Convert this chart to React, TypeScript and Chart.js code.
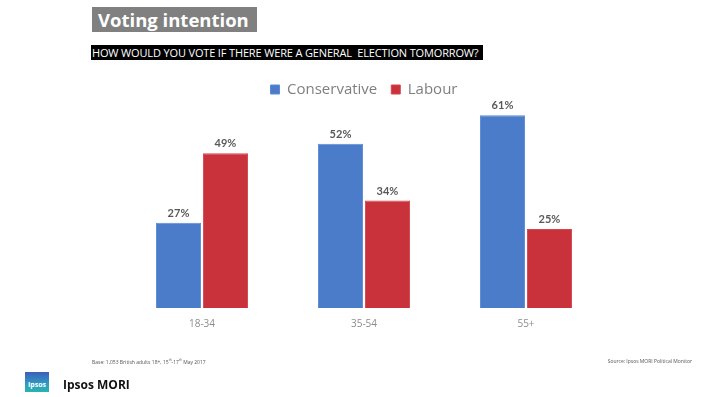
import React, { useEffect, useRef } from "react";
import { Chart, registerables } from "chart.js";

Chart.register(...registerables);

const categories = ["18-34", "35-54", "55+"];
const conservative = [27, 52, 61];
const labour = [49, 34, 25];
const seriesNames = ["Conservative", "Labour"];

const valueLabels = {
  id: "valueLabels",
  afterDatasetsDraw(chart: any) {
    const { ctx } = chart;
    ctx.save();
    ctx.font = "bold 11px Lato, 'DejaVu Sans', sans-serif";
    ctx.fillStyle = "#595959";
    ctx.textAlign = "center";
    ctx.textBaseline = "bottom";
    chart.data.datasets.forEach((ds: any, i: number) => {
      const meta = chart.getDatasetMeta(i);
      meta.data.forEach((bar: any, j: number) => {
        ctx.fillText(ds.data[j] + "%", bar.x, bar.y - 4);
      });
    });
    ctx.restore();
  },
};

export default function App() {
  const ref = useRef<HTMLCanvasElement>(null);
  useEffect(() => {
    const chart = new Chart(ref.current!, {
      type: "bar",
      data: {
        labels: categories,
        datasets: [
          {
            label: seriesNames[0],
            data: conservative,
            backgroundColor: "#4a7cc9",
            borderColor: "#5b8ad6",
            borderWidth: 1,
          },
          {
            label: seriesNames[1],
            data: labour,
            backgroundColor: "#c9313b",
            borderColor: "#d6454e",
            borderWidth: 1,
          },
        ],
      },
      options: {
        animation: false,
        responsive: false,
        maintainAspectRatio: false,
        layout: { padding: { left: 121, right: 103, top: 68, bottom: 57 } },
        datasets: { bar: { categoryPercentage: 0.58, barPercentage: 0.96 } },
        plugins: {
          legend: {
            display: true,
            position: "top",
            labels: {
              boxWidth: 9,
              boxHeight: 9,
              color: "#7f7f7f",
              font: { size: 15, family: "'Open Sans', sans-serif" },
              padding: 14,
            },
          },
          tooltip: { enabled: false },
        },
        scales: {
          x: {
            grid: { display: false, drawTicks: false },
            border: { display: false },
            ticks: {
              color: "#8c8c8c",
              font: { size: 10, family: "'Open Sans', sans-serif" },
              padding: 10,
            },
          },
          y: {
            display: false,
            min: 0,
            max: 63.6,
          },
        },
      },
      plugins: [valueLabels],
    });
    return () => chart.destroy();
  }, []);

  return (
    <div
      style={{
        position: "absolute",
        left: 0,
        top: 0,
        width: 710,
        height: 397,
        background: "#ffffff",
        overflow: "hidden",
        fontFamily: "'Open Sans', sans-serif",
      }}
    >
      <canvas
        ref={ref}
        width={710}
        height={397}
        style={{ position: "absolute", left: 0, top: 0, width: 710, height: 397 }}
      />
      <div
        style={{
          position: "absolute",
          left: 92,
          top: 7,
          width: 165,
          height: 25,
          background: "#808080",
          color: "#ffffff",
          fontWeight: 700,
          fontSize: 18.5,
          lineHeight: "25px",
          paddingLeft: 6,
          boxSizing: "border-box",
          fontFamily: "'Open Sans', sans-serif",
        }}
      >
        Voting intention
      </div>
      <div
        style={{
          position: "absolute",
          left: 91,
          top: 45,
          width: 392,
          height: 15,
          background: "#000000",
          color: "#ffffff",
          fontSize: 11,
          lineHeight: "15px",
          whiteSpace: "nowrap",
          paddingLeft: 1,
          boxSizing: "border-box",
          fontFamily: "'Open Sans', sans-serif",
          letterSpacing: -0.15,
          overflow: "hidden",
        }}
      >
        HOW WOULD YOU VOTE IF THERE WERE A GENERAL&nbsp; ELECTION TOMORROW?
      </div>
      <div
        style={{
          position: "absolute",
          left: 92,
          top: 358,
          fontSize: 5,
          color: "#555",
          whiteSpace: "nowrap",
        }}
      >
        Base: 1,053 British adults 18+, 15<sup style={{ fontSize: 3 }}>th</sup>-17<sup style={{ fontSize: 3 }}>th</sup> May 2017
      </div>
      <div
        style={{
          position: "absolute",
          right: 18,
          top: 358,
          fontSize: 5,
          color: "#555",
          whiteSpace: "nowrap",
        }}
      >
        Source: Ipsos MORI Political Monitor
      </div>
      <div
        style={{
          position: "absolute",
          left: 25,
          top: 372,
          width: 24,
          height: 20,
          background: "linear-gradient(180deg, #3d5fb8 0%, #2f9bc4 60%, #28b4b0 100%)",
          color: "#fff",
          fontSize: 7,
          fontWeight: 700,
          textAlign: "center",
          lineHeight: "26px",
        }}
      >
        Ipsos
      </div>
      <div
        style={{
          position: "absolute",
          left: 63,
          top: 376,
          fontSize: 12,
          fontWeight: 700,
          color: "#111",
          whiteSpace: "nowrap",
        }}
      >
        Ipsos MORI
      </div>
    </div>
  );
}
